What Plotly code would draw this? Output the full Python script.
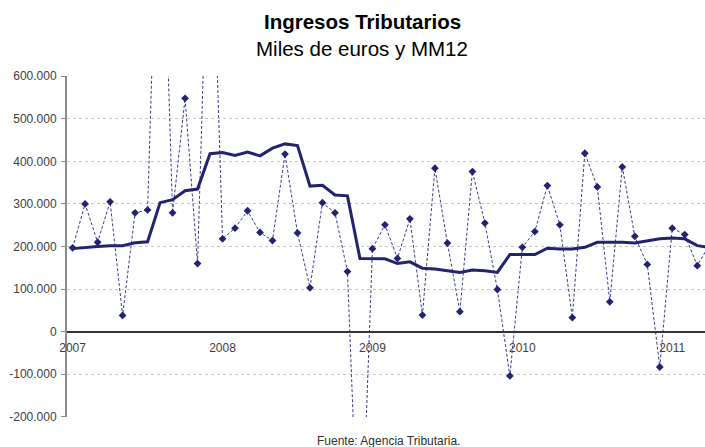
import plotly.graph_objects as go

# Monthly tax revenue (thousand euros) and its 12-month moving average (MM12)
years = [2007, 2008, 2009, 2010, 2011]
months = [f"{y}-{m:02d}" for y in years for m in range(1, 13)][:52]

ingresos = [
    197000, 300000, 210000, 305000, 38000, 279000, 286000, 1240000, 279000, 548000, 160000, 1150000,
    218000, 243000, 284000, 233000, 214000, 417000, 232000, 103000, 303000, 279000, 141000, -615000,
    195000, 251000, 172000, 265000, 39000, 384000, 208000, 47000, 376000, 255000, 99000, -104000,
    198000, 235000, 343000, 251000, 33000, 419000, 340000, 70000, 387000, 224000, 158000, -83000,
    243000, 228000, 155000, 205000,
]

mm12 = [
    195000, 198000, 200000, 202000, 202000, 209000, 211000, 303000, 310000, 331000, 335000, 418000,
    421000, 414000, 422000, 413000, 431000, 441000, 437000, 342000, 344000, 321000, 319000, 172000,
    171000, 171000, 160000, 164000, 149000, 147000, 143000, 139000, 145000, 143000, 139000, 181000,
    181000, 181000, 196000, 194000, 194000, 198000, 210000, 210000, 210000, 208000, 213000, 218000,
    220000, 218000, 202000, 198000,
]

y_ticks = [600000, 500000, 400000, 300000, 200000, 100000, 0, -100000, -200000]
y_ticktext = ["600.000", "500.000", "400.000", "300.000", "200.000", "100.000", "0",
              "-100.000", "-200.000"]
x_tickvals = [f"{y}-01" for y in years]
x_ticktext = [str(y) for y in years]

navy = "#232370"
font_family = "Liberation Sans, Arial, sans-serif"

# Plot area in pixels
W, H = 705, 447
L, R, T, B = 67, 0, 76, 30
plot_w = W - L - R
plot_h = H - T - B


def px_to_paper(px, py):
    return (px - L) / plot_w, 1 - (py - T) / plot_h


fig = go.Figure()

fig.add_trace(go.Scatter(
    x=months, y=ingresos, mode="lines+markers",
    line=dict(color="#3b3b8c", width=1, dash="3px,2px"),
    marker=dict(symbol="diamond", size=6, color=navy),
    name="Ingresos",
))

fig.add_trace(go.Scatter(
    x=months, y=mm12, mode="lines",
    line=dict(color=navy, width=3),
    name="MM12",
))

texts = [
    ("<b>Ingresos Tributarios</b>", 362, 22, 20.5, "black"),
    ("Miles de euros y MM12", 362, 48, 20.5, "black"),
    ("Fuente: Agencia Tributaria.", 388, 441, 12, "#303030"),
]
annotations = []
for text, px, py, size, col in texts:
    xp, yp = px_to_paper(px, py)
    annotations.append(dict(text=text, x=xp, y=yp, xref="paper", yref="paper",
                            xanchor="center", yanchor="middle", showarrow=False,
                            font=dict(size=size, color=col, family=font_family)))

fig.update_layout(
    width=W, height=H,
    margin=dict(l=L, r=R, t=T, b=B),
    paper_bgcolor="white", plot_bgcolor="white",
    showlegend=False,
    font=dict(family=font_family, size=12, color="#404040"),
    xaxis=dict(
        type="category",
        range=[-0.45, 50.62],
        tickmode="array", tickvals=x_tickvals, ticktext=x_ticktext,
        showgrid=False, zeroline=False,
        showline=True, linecolor="#333333", linewidth=1.5,
        anchor="free", position=0.25,
        ticks="", ticklabelstandoff=5,
        tickfont=dict(size=12, color="#404040"),
    ),
    yaxis=dict(
        range=[-200500, 600500],
        tickmode="array", tickvals=y_ticks, ticktext=y_ticktext,
        showgrid=True, gridcolor="#c8c8c8", griddash="3px,3px", gridwidth=1,
        zeroline=False,
        showline=True, linecolor="#8c8c8c", linewidth=2,
        ticks="outside", ticklen=4, tickcolor="#8c8c8c",
        ticklabelstandoff=2,
        tickfont=dict(size=12, color="#404040"),
    ),
    annotations=annotations,
)

fig.write_html("out.html")
